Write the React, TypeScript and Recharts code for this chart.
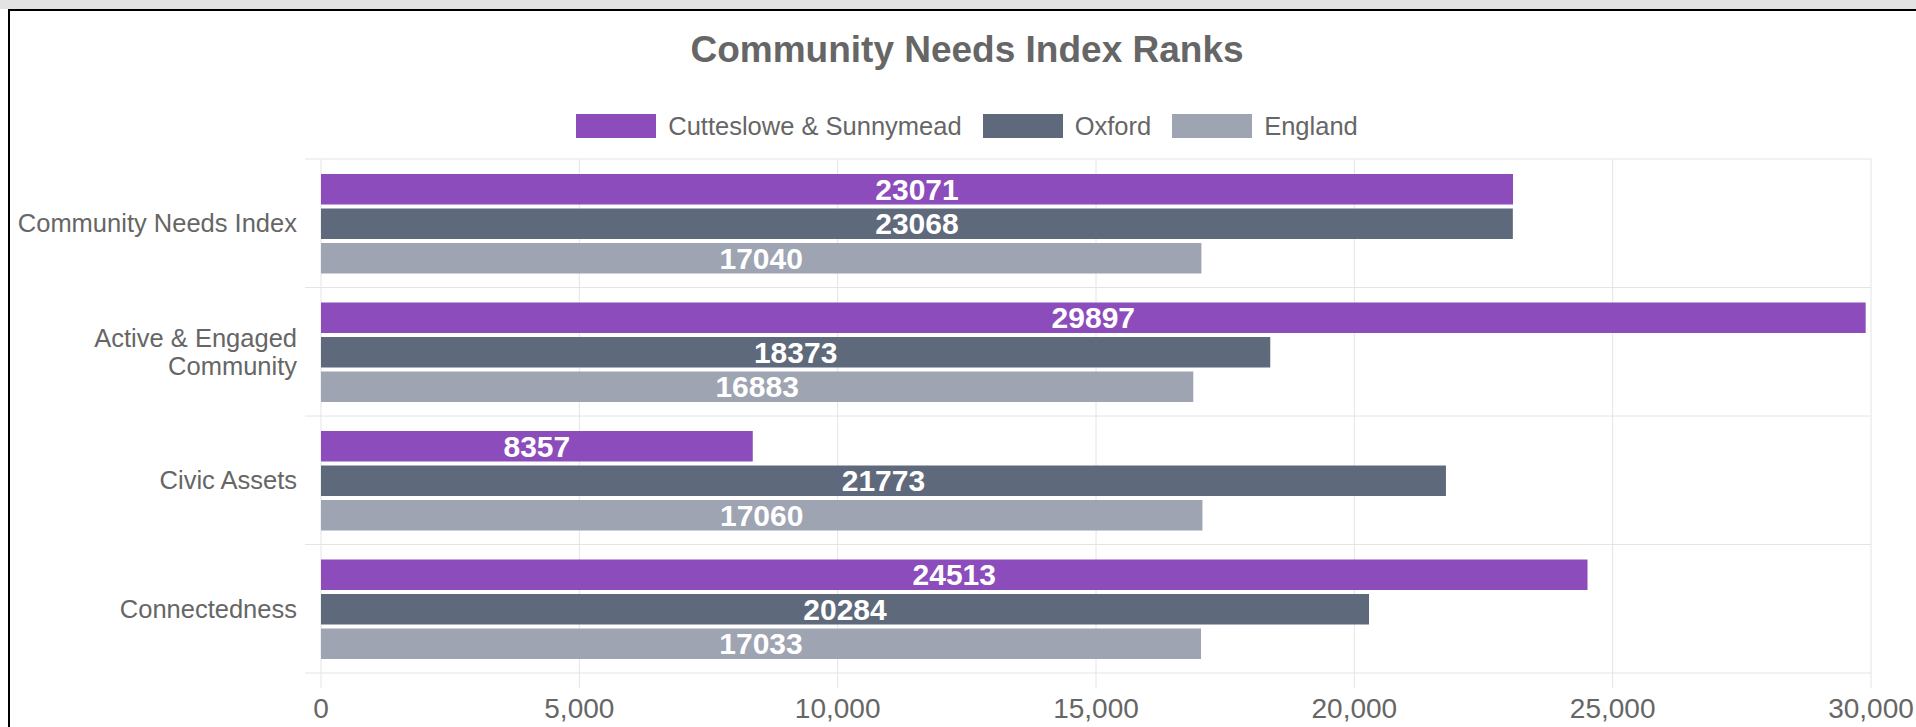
import React from 'react';
import { BarChart, Bar, XAxis, YAxis, CartesianGrid, Legend, LabelList } from 'recharts';

const FONT = '"Liberation Sans", Arial, Helvetica, sans-serif';

const categoryLines: string[][] = [
  ['Community Needs Index'],
  ['Active & Engaged', 'Community'],
  ['Civic Assets'],
  ['Connectedness'],
];
const categories = categoryLines.map((l) => l.join(' '));
const seriesNames = ['Cutteslowe & Sunnymead', 'Oxford', 'England'];
const seriesColors = ['#8D4CBB', '#5F697C', '#9EA4B1'];
const cutteslowe = [23071, 29897, 8357, 24513];
const oxford = [23068, 18373, 21773, 20284];
const england = [17040, 16883, 17060, 17033];
const xTicks = [0, 5000, 10000, 15000, 20000, 25000, 30000];
const chartTitle = 'Community Needs Index Ranks';

const data = categories.map((name, i) => ({
  name,
  s0: cutteslowe[i],
  s1: oxford[i],
  s2: england[i],
}));

const GRID = '#e4e4e4';
const TEXT = '#666666';

const CatTick = (props: any) => {
  const { x, y, payload } = props;
  const idx = categories.indexOf(payload.value);
  const lines = idx >= 0 ? categoryLines[idx] : [String(payload.value)];
  const lh = 28;
  const fs = 25.5;
  const startY = y - ((lines.length - 1) * lh) / 2;
  return (
    <g>
      {lines.map((l, i) => (
        <text
          key={i}
          x={x}
          y={startY + i * lh}
          dy={fs * 0.355}
          textAnchor="end"
          fill={TEXT}
          fontSize={fs}
          fontFamily={FONT}
        >
          {l}
        </text>
      ))}
    </g>
  );
};

const renderLegend = (props: any) => {
  const payload = [...(props.payload || [])].sort(
    (a: any, b: any) => seriesNames.indexOf(a.value) - seriesNames.indexOf(b.value)
  );
  return (
    <div style={{ display: 'flex', justifyContent: 'center', alignItems: 'center', height: 28 }}>
      {payload.map((e: any, i: number) => (
        <div
          key={i}
          style={{ display: 'flex', alignItems: 'center', marginRight: i < payload.length - 1 ? 21 : 0 }}
        >
          <span style={{ width: 80, height: 24, background: e.color, display: 'inline-block', marginRight: 12 }} />
          <span style={{ fontSize: 25.5, color: TEXT, fontFamily: FONT, lineHeight: '28px', whiteSpace: 'nowrap' }}>
            {e.value}
          </span>
        </div>
      ))}
    </div>
  );
};

const horizontalLine = (p: any) => (
  <line
    key={`h-${p.index ?? p.y1}`}
    x1={p.x1 - 16}
    y1={p.y1}
    x2={p.x2}
    y2={p.y2}
    stroke={GRID}
    strokeWidth={1}
  />
);

export default function App() {
  const W = 1934;
  const H = 727;
  return (
    <div
      style={{
        position: 'absolute',
        left: 0,
        top: 0,
        width: 1916,
        height: 727,
        overflow: 'hidden',
        background: '#ffffff',
      }}
    >
      <div style={{ position: 'absolute', left: 0, top: 0, width: 1916, height: 9, background: '#e3e3e3' }} />
      <div
        style={{
          position: 'absolute',
          left: 8,
          top: 9,
          width: 2000,
          height: 800,
          borderLeft: '2px solid #000',
          borderTop: '2px solid #000',
        }}
      />
      <div style={{ position: 'absolute', left: 0, top: 0 }}>
        <BarChart
          width={W}
          height={H}
          data={data}
          layout="vertical"
          margin={{ top: 159, right: 63, bottom: 0, left: 0 }}
          barSize={30.5}
          barGap={4}
        >
          <CartesianGrid
            stroke={GRID}
            horizontal={horizontalLine}
            horizontalCoordinatesGenerator={({ offset }: any) =>
              Array.from({ length: categories.length + 1 }, (_, i) => offset.top + (i * offset.height) / categories.length)
            }
          />
          <XAxis
            type="number"
            domain={[0, 30000]}
            ticks={xTicks}
            height={54}
            axisLine={false}
            tickLine={{ stroke: GRID }}
            tickSize={15}
            tickMargin={10}
            tick={{ fontSize: 28, fill: TEXT, fontFamily: FONT }}
            tickFormatter={(v: number) => v.toLocaleString('en-US')}
            interval={0}
          />
          <YAxis
            type="category"
            dataKey="name"
            width={321}
            axisLine={false}
            tickLine={false}
            tickSize={16}
            tickMargin={8}
            tick={<CatTick />}
            interval={0}
          />
          <Legend
            verticalAlign="middle"
            content={renderLegend}
            itemSorter={null as any}
            wrapperStyle={{ position: 'absolute', top: 112, left: 0, width: W, height: 28 }}
          />
          {seriesNames.map((n, si) => (
            <Bar
              key={n}
              dataKey={`s${si}`}
              name={n}
              fill={seriesColors[si]}
              isAnimationActive={false}
            >
              <LabelList
                dataKey={`s${si}`}
                position="center"
                fill="#ffffff"
                fontSize={30}
                fontWeight="bold"
                fontFamily={FONT}
              />
            </Bar>
          ))}
        </BarChart>
      </div>
      <div
        style={{
          position: 'absolute',
          left: 0,
          top: 31,
          width: W,
          textAlign: 'center',
          fontSize: 37,
          lineHeight: '37px',
          fontWeight: 'bold',
          color: TEXT,
          fontFamily: FONT,
          whiteSpace: 'nowrap',
        }}
      >
        {chartTitle}
      </div>
    </div>
  );
}
